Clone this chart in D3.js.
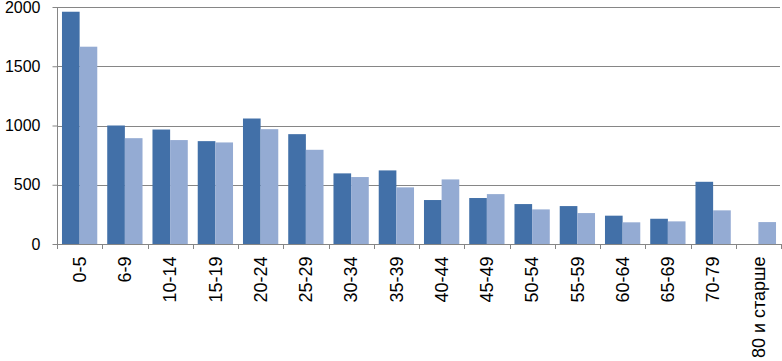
<!DOCTYPE html>
<html><head><meta charset="utf-8">
<script src="https://cdn.jsdelivr.net/npm/d3@7"></script>
<style>body{margin:0;background:#fff}svg{display:block}text{font-family:"Liberation Sans",Arial,sans-serif}</style>
</head><body>
<svg id="c" width="782" height="361"></svg>
<script>
const categories = ["0-5","6-9","10-14","15-19","20-24","25-29","30-34","35-39","40-44","45-49","50-54","55-59","60-64","65-69","70-79","80 и старше"];
const series1 = [1960,1000,966,868,1059,927,596,621,371,388,337,320,239,213,525,0];
const series2 = [1665,893,877,857,969,795,565,478,545,421,292,261,183,191,284,185];
const yTicks = [0,500,1000,1500,2000];
const colors = ["#4270a8","#94abd3"];

const svg = d3.select("#c");
const L = 57, R = 781, T = 7, B = 244;
const x = d3.scaleBand().domain(categories).range([L, R]).paddingInner(0).paddingOuter(0);
const y = d3.scaleLinear().domain([0,2000]).range([B, T]);
const inner = d3.scaleBand().domain([0,1]).range([x.bandwidth()*0.11, x.bandwidth()*0.89]).padding(0);

// gridlines
svg.append("g").selectAll("line").data(yTicks.filter(d=>d>0)).join("line")
  .attr("x1", L).attr("x2", R-1).attr("y1", d=>Math.round(y(d))+0.5).attr("y2", d=>Math.round(y(d))+0.5)
  .attr("stroke","#868686").attr("stroke-width",1);

// bars
const g = svg.append("g");
categories.forEach((c,i)=>{
  [series1[i], series2[i]].forEach((v,j)=>{
    if (v<=0) return;
    g.append("rect").attr("x", x(c)+inner(j)).attr("width", inner.bandwidth())
      .attr("y", y(v)).attr("height", B - y(v)).attr("fill", colors[j]);
  });
});

// y axis
const ya = svg.append("g").attr("transform",`translate(${L+0.5},0)`)
  .call(d3.axisLeft(y).tickValues(yTicks).tickSize(5).tickPadding(12).tickFormat(d3.format("d")));
ya.select(".domain").attr("stroke","#868686").attr("d",`M0,${T}V${B}`);
ya.selectAll(".tick line").attr("stroke","#868686");
ya.selectAll("text").attr("font-size","16px").attr("fill","#000").attr("font-family","Liberation Sans, Arial, sans-serif");

// x axis
const xa = svg.append("g").attr("transform",`translate(0,${B+0.5})`)
  .call(d3.axisBottom(x).tickSize(0).tickFormat(d=>d));
xa.select(".domain").attr("stroke","#868686").attr("d",`M${L},0H${R}`);
// tick marks at band boundaries
svg.append("g").selectAll("line").data(categories.concat(["__end"])).join("line")
  .attr("x1",(d,i)=>Math.round(L + i*x.step())+0.5).attr("x2",(d,i)=>Math.round(L + i*x.step())+0.5)
  .attr("y1",B).attr("y2",B+5).attr("stroke","#868686");
xa.selectAll("text").attr("font-size","18px").attr("fill","#000")
  .attr("font-family","Liberation Sans, Arial, sans-serif")
  .attr("transform","rotate(-90)").attr("text-anchor","end")
  .attr("x",-12).attr("y",0).attr("dy","0.35em");
</script>
</body></html>
